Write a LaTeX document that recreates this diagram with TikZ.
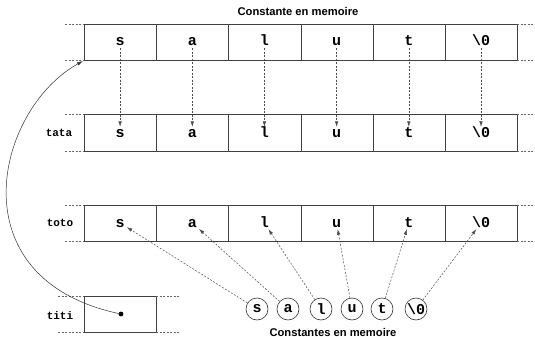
\documentclass[tikz,border=0pt]{standalone}
\usepackage{fontspec}
\setsansfont{Liberation Sans}
\newfontfamily\cour{Liberation Mono}
\usetikzlibrary{arrows.meta}
\begin{document}
\begin{tikzpicture}[x=1pt,y=-1pt,
  ch/.style={font=\cour\bfseries\fontsize{15}{15}\selectfont, inner sep=2pt, text height=8pt, text depth=0pt},
  lab/.style={font=\cour\bfseries\fontsize{11}{11}\selectfont, inner sep=0pt},
  ttl/.style={font=\sffamily\bfseries\fontsize{11.2}{11.2}\selectfont, inner sep=0pt},
  cir/.style={circle, draw=black!80, line width=0.6pt, minimum size=22pt, inner sep=0pt, font=\cour\bfseries\fontsize{15}{15}\selectfont},
  cell/.style={draw=black!75, line width=0.6pt},
  ext/.style={draw=black!60, line width=0.5pt, dash pattern=on 2pt off 1.5pt},
  darr/.style={draw=black!70, line width=0.5pt, dash pattern=on 2pt off 1.5pt, -{Latex[length=5.5pt,width=3.5pt]}},
  carr/.style={draw=black!80, line width=0.5pt, -{Latex[length=6pt,width=3.5pt]}}
]
\useasboundingbox (0,0) rectangle (535,337);

% title
\node[ttl] (title) at (298,11) {Constante en memoire};

% rows
\foreach \ya/\yb in {24/60, 114/151, 205/241}{
  \draw[cell] (84,\ya) rectangle (517,\yb);
  \foreach \xx in {156,228,301,373,445} \draw[cell] (\xx,\ya) -- (\xx,\yb);
  \draw[ext] (65,\ya) -- (84,\ya);
  \draw[ext] (65,\yb) -- (84,\yb);
  \draw[ext] (517,\ya) -- (535,\ya);
  \draw[ext] (517,\yb) -- (535,\yb);
}
% titi box
\draw[cell] (84,296) rectangle (156,332);
\draw[ext] (58,296) -- (84,296);
\draw[ext] (58,332) -- (84,332);
\draw[ext] (156,296) -- (180,296);
\draw[ext] (156,332) -- (180,332);

% labels
\node[lab] (ltata) at (59,133) {tata};
\node[lab] (ltoto) at (60,223) {toto};
\node[lab] (ltiti) at (60,316) {titi};

% chars
\foreach \c/\xx [count=\i] in {s/120.1, a/192.3, l/264.4, u/336.6, t/408.8, \textbackslash 0/481.0}{
  \node[ch] (c\i) at (\xx,42) {\c};
  \node[ch] (d\i) at (\xx,133) {\c};
  \node[ch] (e\i) at (\xx,223) {\c};
}
\foreach \i in {1,...,6} \draw[darr] (c\i) -- (d\i);

% circles
\foreach \c/\xx [count=\i] in {s/257, a/288, l/321, u/352, t/382, \textbackslash 0/416}{
  \node[cir] (k\i) at (\xx,309) {\c};
}
\node[ttl] (title2) at (333,332) {Constantes en memoire};
\foreach \i in {1,...,6} \draw[darr] (k\i) -- (e\i);

% titi pointer
\fill[black] (121,314) circle (2.4pt);
\coordinate (dot) at (121,314);
\coordinate (tip) at (83,61);
\draw[carr] (dot) .. controls (-45,280) and (-5,110) .. (tip);
\end{tikzpicture}
\end{document}
